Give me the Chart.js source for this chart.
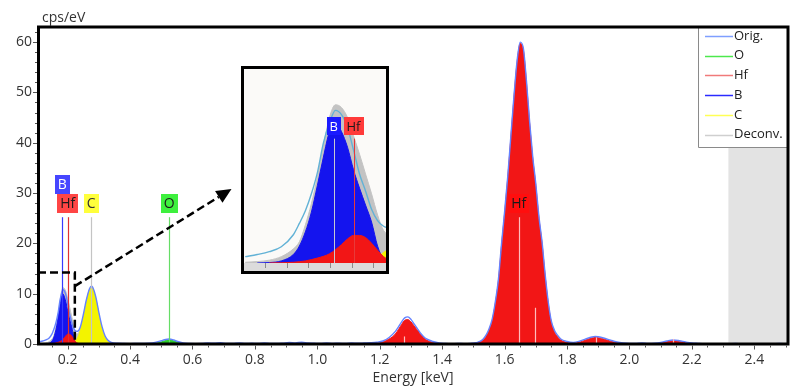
<!DOCTYPE html>
<html>
<head>
<meta charset="utf-8">
<script src="https://cdn.jsdelivr.net/npm/chart.js@4.4.1/dist/chart.umd.min.js"></script>
<style>
  html, body { margin: 0; padding: 0; background: #fff; }
  #wrap { position: relative; width: 799px; height: 390px; }
  #inset { position: absolute; left: 241px; top: 66px; width: 142px; height: 202px; border: 3px solid #000; background: #fbfaf8; }
  canvas { display: block; }
</style>
</head>
<body>
<div id="wrap">
  <canvas id="main" width="799" height="390"></canvas>
  <div id="inset"><canvas id="zoom" width="142" height="202"></canvas></div>
</div>
<script>
// measured spectrum (keV, cps/eV)
const origEnergy = [0.11, 0.12, 0.13, 0.14, 0.15, 0.155, 0.16, 0.165, 0.17, 0.175, 0.18, 0.185, 0.19, 0.195, 0.20, 0.205, 0.21, 0.215, 0.22, 0.225,
  0.23, 0.24, 0.25, 0.26, 0.27, 0.276, 0.28, 0.29, 0.30, 0.31, 0.32, 0.33, 0.34, 0.36, 0.38, 0.40, 0.42, 0.44, 0.46, 0.48,
  0.50, 0.51, 0.525, 0.54, 0.55, 0.57, 0.59, 0.61, 0.63, 0.65, 0.67, 0.69, 0.71, 0.73, 0.75, 0.77, 0.79, 0.81, 0.83, 0.85,
  0.87, 0.89, 0.91, 0.93, 0.95, 0.97, 0.99, 1.01, 1.03, 1.05, 1.07, 1.09, 1.11, 1.13, 1.15, 1.17, 1.19, 1.21, 1.23, 1.25,
  1.26, 1.27, 1.28, 1.29, 1.30, 1.31, 1.32, 1.33, 1.34, 1.35, 1.37, 1.39, 1.41, 1.43, 1.45, 1.47, 1.49, 1.51, 1.52, 1.53,
  1.54, 1.55, 1.56, 1.57, 1.58, 1.59, 1.60, 1.61, 1.62, 1.63, 1.64, 1.65, 1.66, 1.67, 1.68, 1.69, 1.70, 1.71, 1.72, 1.73,
  1.74, 1.75, 1.76, 1.77, 1.78, 1.80, 1.82, 1.84, 1.86, 1.88, 1.89, 1.90, 1.92, 1.94, 1.96, 1.98, 2.00, 2.02, 2.04, 2.06,
  2.08, 2.10, 2.12, 2.14, 2.16, 2.18, 2.20, 2.22, 2.24, 2.26, 2.28, 2.30, 2.32, 2.34, 2.36, 2.38, 2.40, 2.42, 2.44, 2.46, 2.48, 2.50];
const origCounts = [0.45, 0.6, 0.8, 1.15, 2.0, 2.8, 3.7, 4.9, 6.4, 8.5, 9.9, 10.8, 10.5, 9.6, 8.0, 6.3, 5.1, 3.8, 3.0, 2.6,
  2.5, 3.3, 5.8, 8.8, 11.0, 11.5, 11.3, 9.4, 6.3, 3.5, 1.6, 0.7, 0.3, 0.15, 0.1, 0.08, 0.1, 0.12, 0.15, 0.3,
  0.65, 0.85, 1.0, 0.8, 0.55, 0.2, 0.1, 0.08, 0.1, 0.2, 0.15, 0.25, 0.1, 0.12, 0.2, 0.1, 0.15, 0.1, 0.2, 0.12,
  0.1, 0.18, 0.3, 0.22, 0.35, 0.2, 0.15, 0.1, 0.2, 0.12, 0.15, 0.1, 0.2, 0.15, 0.2, 0.25, 0.35, 0.6, 1.3, 2.5,
  3.4, 4.4, 5.2, 5.4, 4.9, 4.0, 3.1, 2.2, 1.5, 1.0, 0.5, 0.2, 0.1, 0.05, 0.1, 0.08, 0.12, 0.25, 0.5, 0.9,
  1.7, 3.0, 4.9, 8.3, 12.8, 19.8, 26.3, 33.3, 41.3, 49.3, 56.3, 60.0, 58.8, 52.3, 44.3, 37.3, 31.8, 25.3, 20.3, 13.8,
  8.3, 4.5, 2.7, 1.7, 1.0, 0.5, 0.3, 0.55, 1.0, 1.4, 1.5, 1.45, 1.15, 0.75, 0.4, 0.2, 0.1, 0.12, 0.2, 0.1,
  0.15, 0.3, 0.6, 0.8, 0.65, 0.4, 0.2, 0.12, 0.05, 0.02, 0, 0.02, 0.05, 0.1, 0.05, 0.08, 0.03, 0.05, 0.02, 0.04, 0.1, 0.05];

// fitted element contributions
const oEnergy = [0.46, 0.48, 0.50, 0.51, 0.525, 0.54, 0.55, 0.57, 0.59];
const oCounts = [0, 0.1, 0.4, 0.6, 0.8, 0.6, 0.4, 0.1, 0];

const hfEnergy = [0.13, 0.15, 0.16, 0.17, 0.18, 0.19, 0.195, 0.20, 0.205, 0.21, 0.215, 0.22, 0.225, 0.23, 0.24, 0.26,
  1.17, 1.19, 1.21, 1.23, 1.24, 1.25, 1.26, 1.27, 1.28, 1.29, 1.30, 1.31, 1.32, 1.33, 1.34, 1.35, 1.36, 1.38, 1.40,
  1.48, 1.50, 1.52, 1.53, 1.54, 1.55, 1.56, 1.57, 1.58, 1.59, 1.60, 1.61, 1.62, 1.63, 1.64, 1.65, 1.66, 1.67, 1.68, 1.69,
  1.70, 1.71, 1.72, 1.73, 1.74, 1.75, 1.76, 1.77, 1.78, 1.80, 1.82, 1.84, 1.86, 1.88, 1.89, 1.90, 1.92, 1.94, 1.96, 1.98,
  2.00, 2.08, 2.10, 2.12, 2.14, 2.16, 2.18, 2.20, 2.22];
const hfCounts = [0, 0.05, 0.15, 0.35, 0.65, 1.3, 1.7, 1.95, 1.95, 1.8, 1.4, 0.9, 0.45, 0.2, 0.06, 0,
  0, 0.1, 0.4, 1.0, 1.4, 2.0, 2.9, 3.9, 4.7, 4.85, 4.4, 3.6, 2.8, 2.0, 1.3, 0.8, 0.5, 0.15, 0,
  0, 0.1, 0.4, 0.8, 1.5, 2.8, 4.6, 8.0, 12.5, 19.5, 26, 33, 41, 49, 56, 59.7, 58.5, 52, 44, 37,
  31.5, 25, 20, 13.5, 8, 4.2, 2.4, 1.4, 0.8, 0.3, 0.15, 0.35, 0.8, 1.2, 1.3, 1.25, 0.95, 0.55, 0.25, 0.08,
  0, 0, 0.15, 0.45, 0.65, 0.5, 0.25, 0.08, 0];

const bEnergy = [0.12, 0.13, 0.14, 0.15, 0.155, 0.16, 0.165, 0.17, 0.175, 0.18, 0.185, 0.19, 0.195, 0.20, 0.205, 0.21, 0.215, 0.22, 0.225, 0.23];
const bCounts = [0, 0.03, 0.15, 0.6, 1.2, 2.2, 3.6, 5.5, 7.5, 9.3, 9.95, 9.3, 8.2, 6.6, 5.3, 4.1, 2.9, 1.2, 0.25, 0];

const cEnergy = [0.20, 0.21, 0.22, 0.225, 0.23, 0.24, 0.25, 0.26, 0.27, 0.276, 0.28, 0.29, 0.30, 0.31, 0.32, 0.33, 0.34, 0.35, 0.36];
const cCounts = [0.02, 0.1, 0.4, 0.75, 1.05, 2.6, 5.2, 8.4, 10.75, 11.2, 11.0, 9.0, 5.8, 3.0, 1.25, 0.41, 0.11, 0.02, 0];

const deconvEnergy = [0.11, 0.12, 0.13, 0.14, 0.15, 0.155, 0.16, 0.165, 0.17, 0.175, 0.18, 0.185, 0.19, 0.195, 0.20, 0.205, 0.21, 0.215, 0.22, 0.225,
  0.23, 0.24, 0.25, 0.26, 0.27, 0.276, 0.28, 0.29, 0.30, 0.31, 0.32, 0.33, 0.34, 0.36, 0.44, 0.48, 0.50, 0.51, 0.525, 0.54, 0.55, 0.57, 0.59, 2.50];
const deconvCounts = [0.05, 0.1, 0.2, 0.45, 1.0, 1.5, 2.7, 4.2, 6.1, 8.3, 10.3, 11.2, 11.0, 10.3, 9.0, 7.7, 6.3, 4.9, 3.4, 2.3,
  2.0, 2.9, 5.4, 8.5, 10.9, 11.3, 11.1, 9.1, 5.9, 3.1, 1.35, 0.5, 0.15, 0.02, 0, 0.1, 0.4, 0.6, 0.8, 0.6, 0.4, 0.1, 0, 0];

const seriesNames = ['Orig.', 'O', 'Hf', 'B', 'C', 'Deconv.'];

// element line markers
const peakLabels = ['B', 'Hf', 'C', 'O', 'Hf'];
const peakEnergy = [0.183, 0.2, 0.275, 0.525, 1.645];
const hfLineEnergy = [1.277, 1.698, 1.893, 2.141];
const hfLineTop = [1.5, 7.2, 1.3, 1.0];

const FONT = '"Open Sans", "Segoe UI", sans-serif';
const lineColors = ['#6482ff', '#2bcf2b', '#f21616', '#1414ee', '#f4f400', '#c3c3c3'];
const legendColors = ['#7f9fff', '#4de84d', '#f07a7a', '#2b2bff', '#ffff55', '#cfcfcf'];
const labelStyle = {
  B: { bg: '#4646ff', fg: '#ffffff' },
  Hf: { bg: '#ff4545', fg: '#1a1a1a' },
  C: { bg: '#ffff3c', fg: '#333333' },
  O: { bg: '#3ef03e', fg: '#1a1a1a' }
};
const markerColors = ['#3a3aff', '#e03030', '#c4c4c4', '#66dd66', '#ffbcbc'];

function pts(xs, ys) {
  return xs.map((x, i) => ({ x: x, y: ys[i] }));
}

function buildDatasets(origColor) {
  const src = [
    [origEnergy, origCounts], [oEnergy, oCounts], [hfEnergy, hfCounts],
    [bEnergy, bCounts], [cEnergy, cCounts], [deconvEnergy, deconvCounts]
  ];
  return src.map((s, i) => ({
    label: seriesNames[i],
    data: pts(s[0], s[1]),
    showLine: true,
    pointRadius: 0,
    cubicInterpolationMode: 'monotone',
    borderColor: i === 0 ? origColor : lineColors[i],
    backgroundColor: lineColors[i],
    borderWidth: i === 0 ? 1.4 : 1,
    fill: i === 0 ? false : 'origin'
  }));
}

function drawLabel(ctx, text, cx, top, h, font, style) {
  ctx.font = font;
  const w = Math.round(ctx.measureText(text).width) + 6;
  ctx.fillStyle = style.bg;
  ctx.fillRect(Math.round(cx - w / 2), top, w, h);
  ctx.fillStyle = style.fg;
  ctx.textAlign = 'center';
  ctx.textBaseline = 'middle';
  ctx.fillText(text, cx, top + h / 2 + 1);
}

const mainDecor = {
  id: 'mainDecor',
  beforeDatasetsDraw(chart) {
    const { ctx, chartArea: a, scales: { x } } = chart;
    ctx.save();
    ctx.fillStyle = '#e3e3e3';
    const gx = x.getPixelForValue(2.317);
    ctx.fillRect(gx, a.top, a.right - gx, a.bottom - a.top);
    ctx.restore();
  },
  afterDatasetsDraw(chart) {
    const { ctx, chartArea: a, scales: { x, y } } = chart;
    ctx.save();

    // element marker lines
    ctx.lineWidth = 1.2;
    peakEnergy.forEach((e, i) => {
      const px = Math.round(x.getPixelForValue(e)) + 0.5;
      ctx.strokeStyle = markerColors[i];
      ctx.beginPath();
      ctx.moveTo(px, y.getPixelForValue(0));
      ctx.lineTo(px, y.getPixelForValue(25.2));
      ctx.stroke();
    });
    ctx.strokeStyle = '#ffbcbc';
    hfLineEnergy.forEach((e, i) => {
      const px = Math.round(x.getPixelForValue(e)) + 0.5;
      ctx.beginPath();
      ctx.moveTo(px, y.getPixelForValue(0));
      ctx.lineTo(px, y.getPixelForValue(hfLineTop[i]));
      ctx.stroke();
    });

    // element labels
    const f = '14px ' + FONT;
    peakLabels.forEach((t, i) => {
      const cx = x.getPixelForValue(peakEnergy[i]);
      const top = t === 'B' ? 175 : 194;
      const st = i === 4 ? { bg: '#ff0e0e', fg: '#1a1a1a' } : labelStyle[t];
      drawLabel(ctx, t, cx, top, 19, f, st);
    });

    // dashed zoom box and arrow
    const bx = x.getPixelForValue(0.223);
    const by = y.getPixelForValue(14.2);
    ctx.strokeStyle = '#000';
    ctx.lineWidth = 2.5;
    ctx.setLineDash([8, 4]);
    ctx.beginPath();
    ctx.moveTo(a.left, by);
    ctx.lineTo(bx, by);
    ctx.lineTo(bx, a.bottom);
    ctx.stroke();
    const sx = bx, sy = y.getPixelForValue(11.5);
    const ex = x.getPixelForValue(0.725), ey = y.getPixelForValue(30.8);
    const ang = Math.atan2(ey - sy, ex - sx);
    const hl = 15;
    ctx.beginPath();
    ctx.moveTo(sx, sy);
    ctx.lineTo(ex - hl * Math.cos(ang), ey - hl * Math.sin(ang));
    ctx.stroke();
    ctx.setLineDash([]);
    ctx.fillStyle = '#000';
    ctx.beginPath();
    ctx.moveTo(ex, ey);
    ctx.lineTo(ex - hl * Math.cos(ang) + 7 * Math.sin(ang), ey - hl * Math.sin(ang) - 7 * Math.cos(ang));
    ctx.lineTo(ex - hl * Math.cos(ang) - 7 * Math.sin(ang), ey - hl * Math.sin(ang) + 7 * Math.cos(ang));
    ctx.closePath();
    ctx.fill();

    // legend
    const lx = 698, ly = a.top, lw = a.right - lx, lh = 120;
    ctx.fillStyle = '#fff';
    ctx.fillRect(lx, ly, lw, lh);
    ctx.strokeStyle = '#8a8a8a';
    ctx.lineWidth = 1;
    ctx.beginPath();
    ctx.moveTo(lx + 0.5, ly);
    ctx.lineTo(lx + 0.5, ly + lh + 0.5);
    ctx.lineTo(a.right, ly + lh + 0.5);
    ctx.stroke();
    ctx.font = '13px ' + FONT;
    ctx.textAlign = 'left';
    ctx.textBaseline = 'middle';
    seriesNames.forEach((n, i) => {
      const ry = ly + 9 + i * 19.7;
      ctx.strokeStyle = legendColors[i];
      ctx.lineWidth = 1.5;
      ctx.beginPath();
      ctx.moveTo(705, Math.round(ry) + 0.5);
      ctx.lineTo(733, Math.round(ry) + 0.5);
      ctx.stroke();
      ctx.fillStyle = '#222';
      ctx.fillText(n, 734, ry);
    });

    // frame
    ctx.strokeStyle = '#000';
    ctx.lineWidth = 3;
    ctx.strokeRect(a.left + 0.5, a.top, a.right - a.left - 0.5, a.bottom - a.top);

    // tick marks
    ctx.strokeStyle = '#555';
    ctx.lineWidth = 1;
    for (let v = 0; v <= 62; v += 2) {
      const py = Math.round(y.getPixelForValue(v)) + 0.5;
      const len = v % 10 === 0 ? 4 : 2;
      ctx.beginPath();
      ctx.moveTo(a.left - 1, py);
      ctx.lineTo(a.left - 1 - len, py);
      ctx.stroke();
    }
    for (let k = 3; k <= 50; k++) {
      const v = k * 0.05;
      const px = Math.round(x.getPixelForValue(v)) + 0.5;
      if (px > a.right) break;
      const len = k % 4 === 0 ? 4 : 2;
      ctx.beginPath();
      ctx.moveTo(px, a.bottom + 1.5);
      ctx.lineTo(px, a.bottom + 1.5 + len);
      ctx.stroke();
    }

    // axis titles
    ctx.fillStyle = '#333';
    ctx.font = '14px ' + FONT;
    ctx.textAlign = 'left';
    ctx.textBaseline = 'middle';
    ctx.fillText('cps/eV', 42, 18);
    ctx.textAlign = 'center';
    ctx.fillText('Energy [keV]', (a.left + a.right) / 2, 378);
    ctx.restore();
  }
};

new Chart(document.getElementById('main'), {
  type: 'scatter',
  data: { datasets: buildDatasets('#6482ff') },
  options: {
    responsive: false,
    animation: false,
    layout: { padding: { top: 27, right: 11, left: 0, bottom: 0 } },
    plugins: { legend: { display: false }, tooltip: { enabled: false } },
    scales: {
      x: {
        type: 'linear', min: 0.105, max: 2.508,
        grid: { display: false, drawTicks: false }, border: { display: false },
        ticks: { stepSize: 0.2, includeBounds: false, maxRotation: 0, autoSkip: false, padding: 8,
          color: '#333', font: { family: FONT, size: 14 }, callback: v => v.toFixed(1) },
        afterFit(s) { s.height = 46; }
      },
      y: {
        min: 0, max: 63,
        grid: { display: false, drawTicks: false }, border: { display: false },
        ticks: { stepSize: 10, includeBounds: false, padding: 6,
          color: '#333', font: { family: FONT, size: 14 } },
        afterFit(s) { s.width = 38; }
      }
    }
  },
  plugins: [mainDecor]
});

// magnified view of the B / Hf region
const zoomDecor = {
  id: 'zoomDecor',
  afterDatasetsDraw(chart) {
    const { ctx, chartArea: a, scales: { x, y } } = chart;
    ctx.save();
    ctx.lineWidth = 1;
    ctx.strokeStyle = '#c8c8d0';
    let px = Math.round(x.getPixelForValue(0.1835)) + 0.5;
    ctx.beginPath(); ctx.moveTo(px, a.bottom); ctx.lineTo(px, y.getPixelForValue(8.8)); ctx.stroke();
    ctx.strokeStyle = '#e83a3a';
    px = Math.round(x.getPixelForValue(0.2)) + 0.5;
    ctx.beginPath(); ctx.moveTo(px, a.bottom); ctx.lineTo(px, y.getPixelForValue(8.8)); ctx.stroke();
    const f = '13px ' + FONT;
    drawLabel(ctx, 'B', x.getPixelForValue(0.1836), 48, 18, f, { bg: '#1a1aff', fg: '#ffffff' });
    drawLabel(ctx, 'Hf', x.getPixelForValue(0.2), 48, 18, f, { bg: '#ff3a3a', fg: '#1a1a1a' });
    // bottom strip
    ctx.fillStyle = '#dcdcdc';
    ctx.fillRect(0, a.bottom, chart.width, chart.height - a.bottom);
    ctx.strokeStyle = '#8c8c8c';
    for (let v = 0.1085; v < 0.227; v += 0.018) {
      const tx = Math.round(x.getPixelForValue(v)) + 0.5;
      ctx.beginPath(); ctx.moveTo(tx, a.bottom); ctx.lineTo(tx, a.bottom + 5); ctx.stroke();
    }
    ctx.restore();
  }
};

new Chart(document.getElementById('zoom'), {
  type: 'scatter',
  data: { datasets: buildDatasets('#62b2d6') },
  options: {
    responsive: false,
    animation: false,
    layout: { padding: { bottom: 8 } },
    plugins: { legend: { display: false }, tooltip: { enabled: false } },
    scales: {
      x: { type: 'linear', min: 0.109, max: 0.227, display: false },
      y: { min: 0, max: 13.73, display: false }
    }
  },
  plugins: [zoomDecor]
});
</script>
</body>
</html>
